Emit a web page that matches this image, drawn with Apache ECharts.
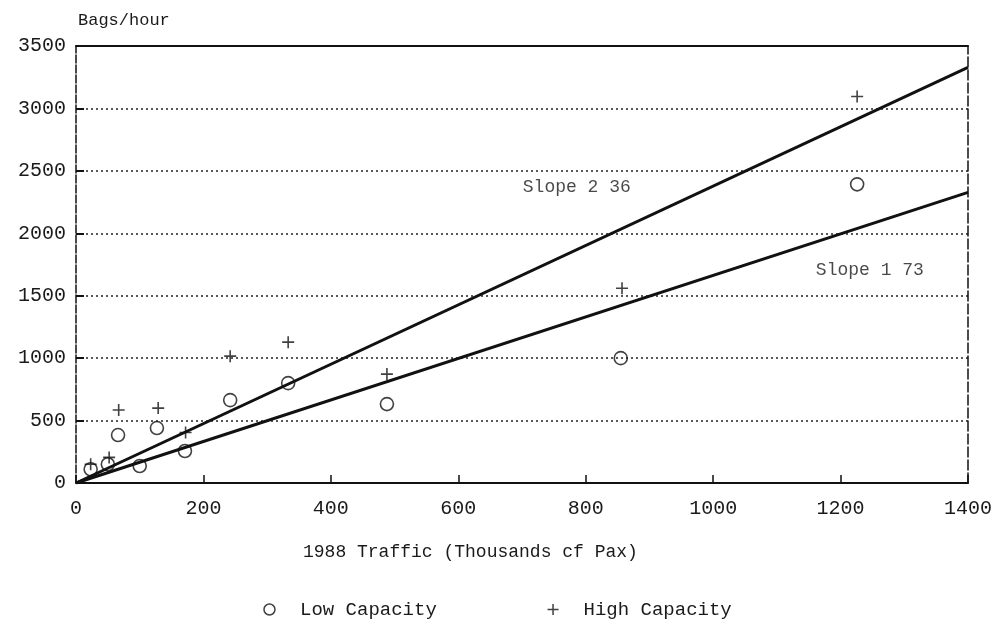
<!DOCTYPE html>
<html>
<head>
<meta charset="utf-8">
<script src="https://cdn.jsdelivr.net/npm/echarts@6/dist/echarts.min.js"></script>
<style>html,body{margin:0;padding:0;background:#fff}#c{width:995px;height:636px}</style>
</head>
<body>
<div id="c"></div>
<script>
// Data
const lowCapacity = [[23,110],[50,150],[66,384],[100,136],[127,440],[171,256],[242,664],[333,800],[488,632],[855,1000],[1226,2392]];
const highCapacity = [[23,150],[52,205],[67,585],[129,600],[172,405],[242,1016],[333,1128],[488,872],[857,1560],[1226,3096]];
const fitHigh = [[0,0],[1400,3328]];
const fitLow = [[0,0],[1400,2328]];
const slopeLabels = [{value:[786,2368], text:'Slope 2 36'},{value:[1246,1704], text:'Slope 1 73'}];
const xTicks = [0,200,400,600,800,1000,1200,1400];
const yTicks = [0,500,1000,1500,2000,2500,3000,3500];
const xTitle = '1988 Traffic (Thousands cf Pax)';
const yTitle = 'Bags/hour';

const FONT = 'Liberation Mono';
const TXT = '#1a1a1a';
const chart = echarts.init(document.getElementById('c'));
const plusPath = 'path://M5,0 L5,10 M0,5 L10,5';
const circlePath = 'path://M10,5 A5,5 0 1,1 0,5 A5,5 0 1,1 10,5 Z';
chart.setOption({
  animation: false,
  backgroundColor: '#fff',
  grid: {left: 76, right: 27, top: 46, bottom: 153},
  xAxis: [{
    type: 'value', min: 0, max: 1400, interval: 200,
    axisLine: {show: true, lineStyle: {color: '#111', width: 2}},
    axisTick: {show: true, inside: true, length: 8, lineStyle: {color: '#111', width: 1.5}},
    axisLabel: {color: TXT, fontFamily: FONT, fontSize: 20, margin: 16, formatter: v => String(v)},
    splitLine: {show: false}
  }, {
    type: 'value', min: 0, max: 1400, position: 'top',
    axisLine: {show: true, onZero: false, lineStyle: {color: '#111', width: 2}},
    axisTick: {show: false}, axisLabel: {show: false}, splitLine: {show: false}
  }],
  yAxis: [{
    type: 'value', min: 0, max: 3500, interval: 500,
    axisLine: {show: true, lineStyle: {color: '#111', width: 1.5, type: [8,2]}},
    axisTick: {show: true, inside: true, length: 8, lineStyle: {color: '#111', width: 2}},
    axisLabel: {color: TXT, fontFamily: FONT, fontSize: 20, margin: 10, formatter: v => String(v)},
    splitLine: {show: true, lineStyle: {color: '#222', width: 1.5, type: [2,3]}}
  }, {
    type: 'value', min: 0, max: 3500, position: 'right',
    axisLine: {show: true, onZero: false, lineStyle: {color: '#111', width: 1.5, type: [10,3]}},
    axisTick: {show: false}, axisLabel: {show: false}, splitLine: {show: false}
  }],
  legend: {
    bottom: 12, left: 'center', itemGap: 110, itemWidth: 11, itemHeight: 11,
    textStyle: {color: TXT, fontFamily: FONT, fontSize: 19, padding: [0,0,0,20]},
    data: [
      {name: 'Low Capacity', icon: circlePath, itemStyle: {color: 'transparent', borderColor: '#111', borderWidth: 1.5}},
      {name: 'High Capacity', icon: plusPath, itemStyle: {color: 'transparent', borderColor: '#111', borderWidth: 1.5}}
    ]
  },
  graphic: [
    {type: 'text', left: 78, top: 12, style: {text: yTitle, fill: TXT, font: '17px "' + FONT + '"'}},
    {type: 'text', left: 303, top: 543, style: {text: xTitle, fill: TXT, font: '18px "' + FONT + '"'}}
  ],
  series: [
    {name: 'fitHigh', type: 'line', data: fitHigh, showSymbol: false, lineStyle: {color: '#111', width: 3}, z: 3},
    {name: 'fitLow', type: 'line', data: fitLow, showSymbol: false, lineStyle: {color: '#111', width: 3}, z: 3},
    {name: 'Low Capacity', type: 'scatter', data: lowCapacity, symbol: 'circle', symbolSize: 13,
      itemStyle: {color: 'transparent', borderColor: '#111', borderWidth: 1.6}, z: 4},
    {name: 'High Capacity', type: 'scatter', data: highCapacity, symbol: plusPath, symbolSize: 12,
      itemStyle: {color: 'transparent', borderColor: '#111', borderWidth: 1.6}, z: 4},
    {name: 'labels', type: 'scatter', symbolSize: 0, silent: true,
      data: slopeLabels.map(d => ({value: d.value, label: {show: true, position: 'inside', formatter: d.text,
        color: TXT, fontFamily: FONT, fontSize: 18}}))}
  ]
});
</script>
</body>
</html>
